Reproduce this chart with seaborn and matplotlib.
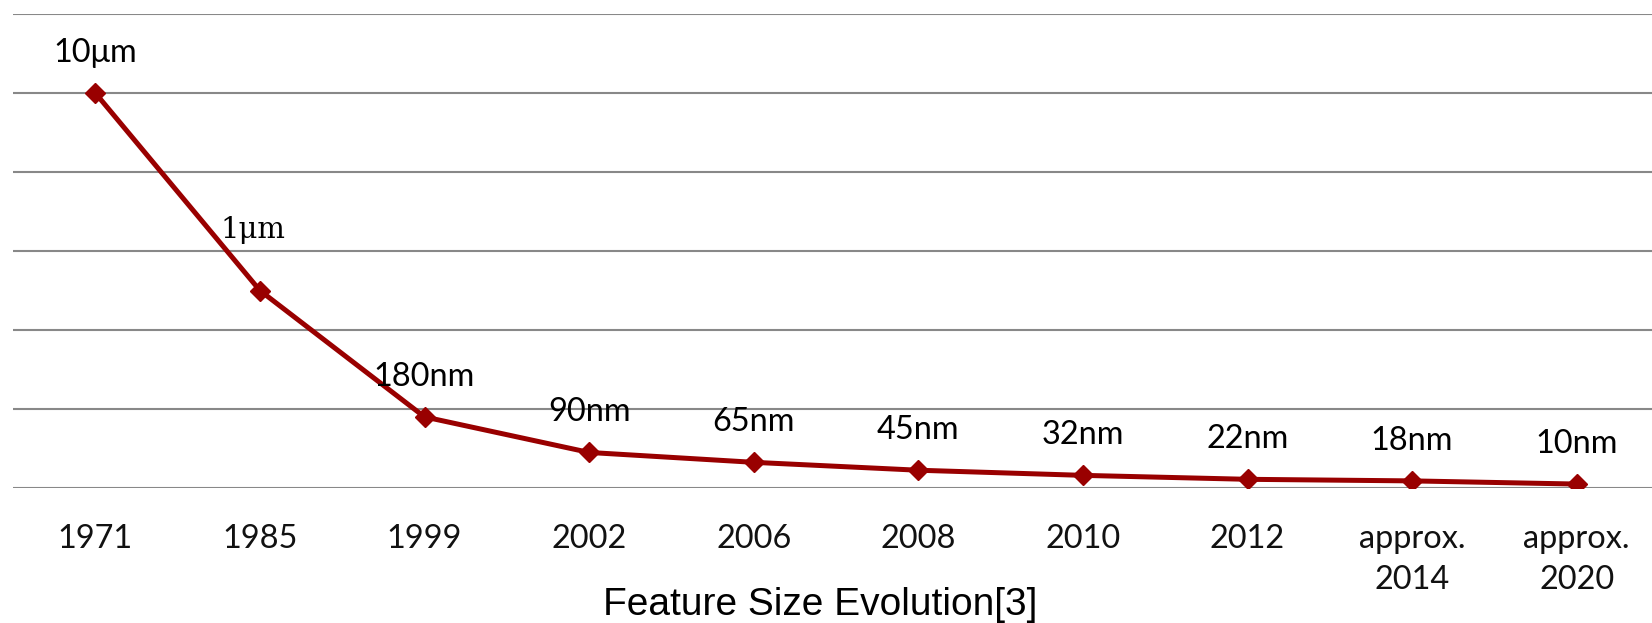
import numpy as np
import pandas as pd
import matplotlib
matplotlib.use("Agg")
import matplotlib.pyplot as plt
import seaborn as sns

# Process nodes and the plotted feature-size values
years = ["1971", "1985", "1999", "2002", "2006", "2008", "2010", "2012",
         "approx.\n2014", "approx.\n2020"]
feature_values = [10, 5, 1.8, 0.9, 0.65, 0.45, 0.32, 0.22, 0.18, 0.1]
node_labels = ["10\u03bcm", "1\u03bcm", "180nm", "90nm", "65nm", "45nm",
               "32nm", "22nm", "18nm", "10nm"]
y_ticks = [0, 2, 4, 6, 8, 10, 12]
title = "Feature Size Evolution[3]"

LINE_COLOR = "#990000"
GRID_COLOR = "#888888"

sns.set_style("white")
plt.rcParams["font.family"] = ["Lato", "DejaVu Sans"]

df = pd.DataFrame({"pos": np.arange(len(years)), "size": feature_values})

fig = plt.figure(figsize=(16.52, 6.23), dpi=100)
ax = fig.add_axes([13 / 1652, 135 / 623, 1646 / 1652, 474 / 623])

sns.lineplot(data=df, x="pos", y="size", ax=ax, color=LINE_COLOR,
             linewidth=3.6, marker="D", markersize=10,
             markeredgecolor=LINE_COLOR, markeredgewidth=1)

ax.set_xlim(-0.5, len(years) - 0.5)
ax.set_ylim(y_ticks[0], y_ticks[-1])
ax.set_yticks(y_ticks)
ax.set_yticklabels([])
ax.set_xticks(df["pos"])
ax.set_xticklabels(years, fontsize=23.4, linespacing=1.45, color="#111111")
ax.tick_params(axis="x", length=0, pad=26)
ax.tick_params(axis="y", length=0)
ax.set_xlabel("")
ax.set_ylabel("")
ax.grid(axis="y", color=GRID_COLOR, linewidth=1.5)
ax.grid(axis="x", visible=False)
for sp in ax.spines.values():
    sp.set_visible(False)

# Value labels above each marker
for i, (v, lab) in enumerate(zip(df["size"], node_labels)):
    if lab.startswith("1\u03bc"):
        ax.annotate(lab, (i, v), xytext=(-5, 38), textcoords="offset points",
                    ha="center", va="baseline", fontsize=21,
                    family=["DejaVu Serif"], color="black")
    else:
        ax.annotate(lab, (i, v), xytext=(0, 22.3), textcoords="offset points",
                    ha="center", va="baseline", fontsize=23.4, color="black")

fig.text(820 / 1652, 8 / 623, title, ha="center", va="baseline",
         fontsize=28, family=["Liberation Sans", "DejaVu Sans"], color="black")

fig.savefig("out.png", dpi=100, facecolor="white")
